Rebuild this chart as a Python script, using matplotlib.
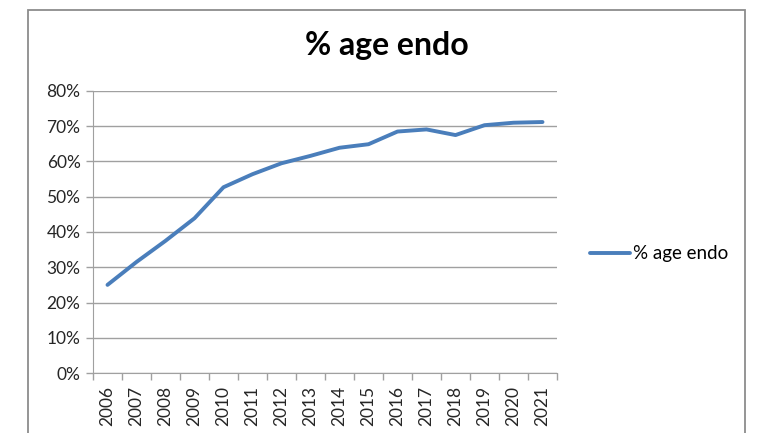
import matplotlib
matplotlib.use("Agg")
import matplotlib.pyplot as plt
from matplotlib.patches import Rectangle
import numpy as np

years = ["2006", "2007", "2008", "2009", "2010", "2011", "2012", "2013",
         "2014", "2015", "2016", "2017", "2018", "2019", "2020", "2021"]
pct_endo = [25.0, 31.5, 37.5, 43.9, 52.7, 56.4, 59.5, 61.6,
            63.9, 64.9, 68.5, 69.1, 67.5, 70.3, 71.0, 71.2]
y_ticks = [0, 10, 20, 30, 40, 50, 60, 70, 80]
series_name = "% age endo"

plt.rcParams['font.family'] = ['Lato', 'DejaVu Sans']

fig = plt.figure(figsize=(7.57, 4.33), dpi=100)
ax = fig.add_axes([93/757, 1-373/433, (557-93)/757, (373-91)/433])

line_color = "#4A7EBB"
grid_color = "#A0A0A0"

x = np.arange(len(years))
ln, = ax.plot(x, pct_endo, color=line_color, lw=2.8, solid_capstyle='round',
              solid_joinstyle='round', label=series_name)

ax.set_xlim(-0.5, len(years) - 0.5)
ax.set_ylim(0, 80)
ax.set_yticks(y_ticks)
ax.set_yticklabels([f"{v}%" for v in y_ticks], fontsize=12.5, color="#262626")
ax.yaxis.grid(True, color=grid_color, lw=1.0)
ax.set_axisbelow(True)

ax.set_xticks(x)
ax.set_xticklabels(years, rotation=90, fontsize=12.5, color="#262626")
ax.tick_params(axis='x', which='major', length=0, pad=9)
ax.set_xticks(np.arange(-0.5, len(years)), minor=True)
ax.tick_params(axis='x', which='minor', length=5, color=grid_color, width=1)
ax.tick_params(axis='y', length=5, color=grid_color, width=1, pad=4)

for s in ['top', 'right']:
    ax.spines[s].set_visible(False)
ax.spines['left'].set_color(grid_color)
ax.spines['bottom'].set_color(grid_color)

fig.text(387/757, 1-46/433, "% age endo", ha='center', va='center',
         fontsize=23, fontweight='bold', color='black')

fig.legend(handles=[ln], labels=[series_name], loc='center left',
           bbox_to_anchor=(582/757, 1-254/433), frameon=False, fontsize=13.5,
           handlelength=2.15, handletextpad=0.15, borderaxespad=0)

frame = Rectangle((28/757, -0.05), (745-28)/757, 1-10/433 + 0.05,
                  transform=fig.transFigure, fill=False, edgecolor="#8C8C8C",
                  lw=1.3, clip_on=False)
fig.patches.append(frame)

fig.savefig("out.png", dpi=100)
